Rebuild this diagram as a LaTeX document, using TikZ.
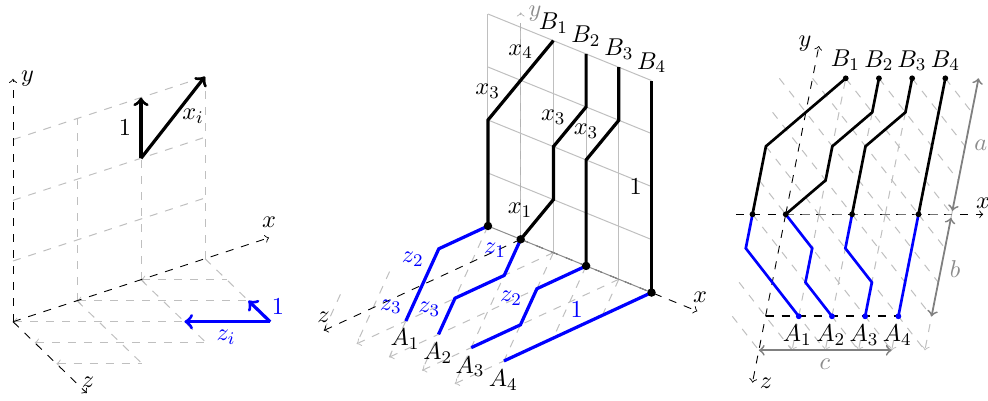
\documentclass[tikz,border=0pt]{standalone}
\usetikzlibrary{calc}
\tikzset{
  axisline/.style={black, line width=0.4pt, dash pattern=on 3.6pt off 3.6pt, ->},
  griddash/.style={black!25, line width=0.45pt, dash pattern=on 3.6pt off 3.6pt},
  gridsolid/.style={black!25, line width=0.45pt},
  route/.style={black, line width=1.45pt, line join=miter},
  zroute/.style={blue, line width=1.45pt, line join=miter},
  thinroute/.style={black, line width=1.2pt, line join=miter},
  thinzroute/.style={blue, line width=1.2pt, line join=miter},
  measure/.style={black!50, line width=0.8pt, <->},
  zlabel/.style={text=blue, inner sep=0pt},
  plainlabel/.style={inner sep=0pt},
  greylabel/.style={text=black!45, inner sep=0pt}
}
\begin{document}
\begin{tikzpicture}[x=0.45pt,y=-0.45pt,every node/.style={font=\fontsize{11}{13}\selectfont}]
\useasboundingbox (0,0) rectangle (988,400);

% --- Left panel: one step ---
\begin{scope}[shift={(13,321.7)},x={(28.8pt,9.45pt)},y={(0pt,27.32pt)},z={(9.77pt,-9.45pt)}]
  \foreach \level in {1,2,3}
    \draw[griddash] (0,\level,0) -- (3,\level,0);
  \foreach \col in {1,2,3}
    \draw[griddash] (\col,0,0) -- (\col,3,0);
  \foreach \col in {1,2,3}
    \draw[griddash] (\col,0,0) -- (\col,0,3);
  \foreach \xs/\zs/\len in {0/2/1,0/1/2,0/0/3,1/0/2,2/0/1}
    \draw[griddash,<-] (\xs,0,\zs) -- ++(\len,0,\len);
  \coordinate (origin) at (0,0,0);
  \draw[axisline] (origin) -- (4,0,0);
  \draw[axisline] (origin) -- (0,4,0);
  \draw[axisline] (origin) -- (0,0,3.4);
  \coordinate (base) at (2,2,0);
  \draw[route,->] (base) -- (2,3,0);
  \draw[route,->] (base) -- (3,3,0);
  \coordinate (zbase) at (3,0,3);
  \draw[zroute,->] (zbase) -- (2,0,2);
  \draw[zroute,->] (zbase) -- (3,0,2);
\end{scope}
\node[plainlabel] (ylabela) at (27.5,79) {$y$};
\node[plainlabel] (xlabela) at (269,222) {$x$};
\node[plainlabel] (zlabela) at (88,382) {$z$};
\node[plainlabel] (onea) at (125,128) {$1$};
\node[plainlabel] (xia) at (193,116) {$x_i$};
\node[zlabel] (oneb) at (278,307) {$1$};
\node[zlabel] (zia) at (226,337) {$z_i$};

% --- Middle panel: paths in the box ---
\begin{scope}[shift={(520.7,239.3)},x={(14.72pt,-5.99pt)},y={(0pt,23.85pt)},z={(-22.14pt,-10.26pt)}]
  \foreach \level in {1,2,3,4}
    \draw[gridsolid] (-1,\level,0) -- (4,\level,0);
  \foreach \col in {-1,0,...,4}
    \draw[gridsolid] (\col,0,0) -- (\col,4,0);
  \foreach \col in {1,2,3,4}
    \draw[griddash,->] (\col,0,0) -- (\col,0,4);
  \foreach \xs/\zs/\len in {-1/3/1,-1/2/2,-1/1/3,-1/0/4,0/0/4,1/0/3,2/0/2,3/0/1}
    \draw[griddash] (\xs,0,\zs) -- ++(\len,0,\len);
  \coordinate (orig) at (0,0,0);
  \draw[axisline] (orig) -- (5.4,0,0);
  \draw[axisline] (orig) -- (0,0,4);
  \draw[axisline,black!30] (orig) -- (0,4.28,0);
  \draw[gridsolid,black!45] (-1,0,0) -- (4,0,0);
  \coordinate (start1) at (-1,0,0);
  \coordinate (start2) at (0,0,0);
  \coordinate (start3) at (2,0,0);
  \coordinate (start4) at (4,0,0);
  \draw[route] (start1) -- (-1,2,0) -- (1,4,0);
  \draw[route] (start2) -- (1,1,0) -- (1,2,0) -- (2,3,0) -- (2,4,0);
  \draw[route] (start3) -- (2,2,0) -- (3,3,0) -- (3,4,0);
  \draw[route] (start4) -- (4,4,0);
  \draw[zroute] (start1) -- (-1,0,1) -- (1,0,3);
  \draw[zroute] (start2) -- (1,0,1) -- (1,0,2) -- (2,0,3);
  \draw[zroute] (start3) -- (2,0,1) -- (3,0,2) -- (3,0,3);
  \draw[zroute] (start4) -- (4,0,3);
  \foreach \p in {start1,start2,start3,start4}
    \fill (\p) circle (1.9pt);
\end{scope}
\node[greylabel] (ylabelb) at (535,13.5) {$y$};
\node[plainlabel] (xlabelb) at (700,297) {$x$};
\node[plainlabel] (zlabelb) at (323.5,317) {$z$};
\node[plainlabel] (bb1) at (553.5,23) {$B_1$};
\node[plainlabel] (bb2) at (586,36) {$B_2$};
\node[plainlabel] (bb3) at (619,49.5) {$B_3$};
\node[plainlabel] (bb4) at (651.7,62.7) {$B_4$};
\node[plainlabel] (ab1) at (405,339) {$A_1$};
\node[plainlabel] (ab2) at (437.7,353.3) {$A_2$};
\node[plainlabel] (ab3) at (470,366.7) {$A_3$};
\node[plainlabel] (ab4) at (503.3,380) {$A_4$};
\node[plainlabel] (xfour) at (520.7,51.7) {$x_4$};
\node[plainlabel] (xthreea) at (487.7,91) {$x_3$};
\node[plainlabel] (xthreeb) at (553.3,117.3) {$x_3$};
\node[plainlabel] (xthreec) at (586,131) {$x_3$};
\node[plainlabel] (xone) at (520,210) {$x_1$};
\node[plainlabel] (onec) at (635.7,186.7) {$1$};
\node[zlabel] (ztwoa) at (412.7,259.3) {$z_2$};
\node[zlabel] (zone) at (495,250) {$z_1$};
\node[zlabel] (zthreea) at (390.7,306.7) {$z_3$};
\node[zlabel] (zthreeb) at (429.3,309) {$z_3$};
\node[zlabel] (ztwob) at (511,298.3) {$z_2$};
\node[zlabel] (oned) at (576.7,309.3) {$1$};

% --- Right panel: sheared box ---
\begin{scope}[shift={(785.7,214.3)},x={(14.94pt,0pt)},y={(3.02pt,15.3pt)},z={(-3.02pt,-15.3pt)}]
  \foreach \col in {1,2,3,4,5}
    \draw[griddash] (\col,0,0) -- (\col,4,0);
  \foreach \col in {1,2,3,4,5}
    \draw[griddash,->] (\col,0,0) -- (\col,0,4);
  \foreach \xs/\ys/\len in {-1/1/1,-1/2/2,-1/3/3,-1/4/4,0/4/4,1/4/4,2/4/3,3/4/2,4/4/1}
    \draw[griddash] (\xs,\ys,0) -- ++(\len,-\len,0);
  \foreach \xs/\zs/\len in {-1/3/1,-1/2/2,-1/1/3,-1/0/4,0/0/4,1/0/4,2/0/3,3/0/2,4/0/1}
    \draw[griddash] (\xs,0,\zs) -- ++(\len,0,\len);
  \coordinate (zero) at (0,0,0);
  \draw[axisline] (-1.5,0,0) -- (5.95,0,0);
  \draw[axisline] (zero) -- (0,4.95,0);
  \draw[axisline] (zero) -- (0,0,4.95);
  \draw[griddash,black!55] (zero) -- (5,0,0);
  \draw[line width=0.95pt,dash pattern=on 3.6pt off 3.6pt] (0,0,3) -- (4,0,3);
  \coordinate (foot1) at (-1,0,0);
  \coordinate (foot2) at (0,0,0);
  \coordinate (foot3) at (2,0,0);
  \coordinate (foot4) at (4,0,0);
  \coordinate (top1) at (1,4,0);
  \coordinate (top2) at (2,4,0);
  \coordinate (top3) at (3,4,0);
  \coordinate (top4) at (4,4,0);
  \coordinate (low1) at (1,0,3);
  \coordinate (low2) at (2,0,3);
  \coordinate (low3) at (3,0,3);
  \coordinate (low4) at (4,0,3);
  \draw[thinroute] (foot1) -- (-1,2,0) -- (top1);
  \draw[thinroute] (foot2) -- (1,1,0) -- (1,2,0) -- (2,3,0) -- (top2);
  \draw[thinroute] (foot3) -- (2,2,0) -- (3,3,0) -- (top3);
  \draw[thinroute] (foot4) -- (top4);
  \draw[thinzroute] (foot1) -- (-1,0,1) -- (low1);
  \draw[thinzroute] (foot2) -- (1,0,1) -- (1,0,2) -- (low2);
  \draw[thinzroute] (foot3) -- (2,0,1) -- (3,0,2) -- (low3);
  \draw[thinzroute] (foot4) -- (low4);
  \foreach \p in {foot1,foot2,foot3,foot4,top1,top2,top3,top4}
    \fill (\p) circle (1.3pt);
  \foreach \p in {low1,low2,low3,low4}
    \fill[blue] (\p) circle (1.3pt);
  \coordinate (corner) at (5,0,0);
  \draw[measure] (corner) ++(0,0.1,0) -- (5,4,0);
  \draw[measure] (corner) ++(0,0,0.1) -- (5,0,3);
  \draw[measure] (0,0,4) -- (4,0,4);
\end{scope}
\node[plainlabel] (ylabelc) at (805,44) {$y$};
\node[plainlabel] (xlabelc) at (983,203) {$x$};
\node[plainlabel] (zlabelc) at (766,383) {$z$};
\node[plainlabel] (bc1) at (845.3,60) {$B_1$};
\node[plainlabel] (bc2) at (879,60.7) {$B_2$};
\node[plainlabel] (bc3) at (912,60.7) {$B_3$};
\node[plainlabel] (bc4) at (945.3,60.7) {$B_4$};
\node[plainlabel] (ac1) at (797.3,335) {$A_1$};
\node[plainlabel] (ac2) at (830.7,335) {$A_2$};
\node[plainlabel] (ac3) at (864,335) {$A_3$};
\node[plainlabel] (ac4) at (897.3,335) {$A_4$};
\node[greylabel] (alabel) at (980.7,145.7) {$a$};
\node[greylabel] (blabel) at (955,269.3) {$b$};
\node[greylabel] (clabel) at (825,364) {$c$};
\end{tikzpicture}
\end{document}
